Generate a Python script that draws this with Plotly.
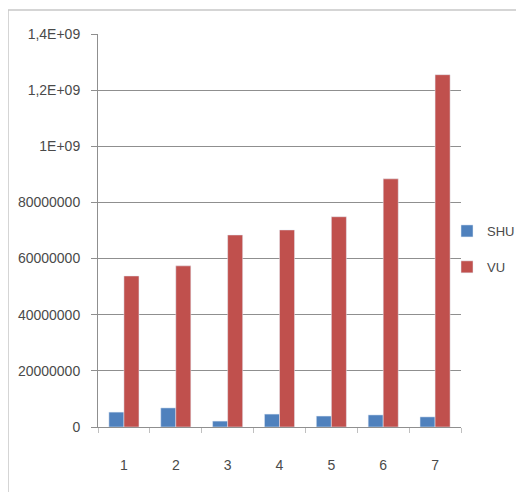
import plotly.graph_objects as go

categories = ["1", "2", "3", "4", "5", "6", "7"]
shu_values = [53e6, 68e6, 21e6, 46e6, 39e6, 43e6, 36e6]
vu_values = [538e6, 574e6, 684e6, 702e6, 749e6, 884e6, 1255e6]
y_tick_vals = [0, 2e8, 4e8, 6e8, 8e8, 1e9, 1.2e9, 1.4e9]
y_tick_text = ["0", "20000000", "40000000", "60000000", "80000000", "1E+09", "1,2E+09", "1,4E+09"]

OFF = 8  # page body margin
W, H = 524 - OFF, 492 - OFF
L, T = 98 - OFF, 34 - OFF
R = W - (461 - OFF)
B = H - (427 - OFF)
pw, ph = W - L - R, H - T - B

font_family = "Liberation Sans, Arial, sans-serif"
text_color = "#4a4a4a"
grid_color = "#8f8f8f"

fig = go.Figure()
fig.add_trace(go.Bar(x=categories, y=shu_values, name="SHU", marker_color="#4F81BD",
                     legendgroup="a"))
fig.add_trace(go.Bar(x=categories, y=vu_values, name="VU", marker_color="#C0504D",
                     legendgroup="b"))

def px_x(x):
    return (x - OFF - L) / pw

def px_y(y):
    return (H - B - (y - OFF)) / ph

fig.update_layout(
    width=W, height=H,
    margin=dict(l=L, r=R, t=T, b=B, pad=0, autoexpand=False),
    paper_bgcolor="white", plot_bgcolor="white",
    barmode="group", bargap=0.42, bargroupgap=0,
    font=dict(family=font_family, size=14, color=text_color),
    showlegend=True,
    legend=dict(x=px_x(447), y=px_y(249), xanchor="left", yanchor="middle",
                font=dict(size=13, color=text_color), traceorder="grouped",
                tracegroupgap=16, itemwidth=30, bgcolor="rgba(0,0,0,0)"),
    xaxis=dict(type="category", showline=True, linecolor=grid_color, linewidth=1,
               ticks="outside", tickson="boundaries", ticklen=5, tickcolor="#c0c0c0",
               showgrid=False, ticklabelstandoff=25,
               tickfont=dict(size=14, color=text_color)),
    yaxis=dict(range=[0, 1.4e9], tickvals=y_tick_vals, ticktext=y_tick_text,
               showline=True, linecolor=grid_color, linewidth=1,
               ticks="outside", ticklen=6, tickcolor=grid_color,
               showgrid=True, gridcolor=grid_color, gridwidth=1,
               zeroline=False, ticklabelstandoff=8,
               tickfont=dict(size=14, color=text_color)),
    shapes=[dict(type="rect", xref="paper", yref="paper",
                 x0=px_x(8), x1=px_x(540), y0=px_y(510), y1=px_y(10),
                 line=dict(color="#c8c8c8", width=1.5), layer="below")],
)

fig.write_html("out.html")
